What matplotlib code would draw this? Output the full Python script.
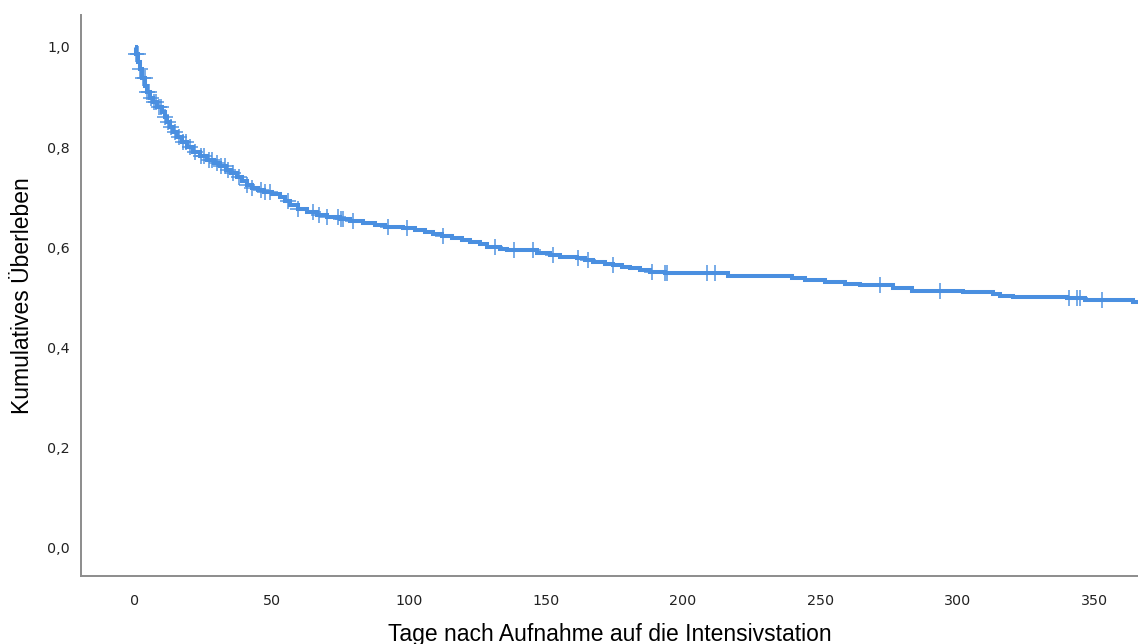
import numpy as np
import matplotlib
matplotlib.use("Agg")
import matplotlib.pyplot as plt
from matplotlib.ticker import FuncFormatter

# Kaplan-Meier estimate: event times (days) and survival after each step
event_days = [0, 0.4, 1.1, 1.8, 2.6, 3.6, 4.4, 5.5, 6.6, 8.0, 9.9, 10.9, 11.7,
              12.8, 13.9, 15.3, 17.2, 19.0, 21.2, 23.7, 26.3, 28.8, 31.0, 33.2,
              35.0, 37.2, 39.1, 40.9, 42.7, 44.9, 47.1, 50.0, 52.9, 54.7, 56.6,
              59.5, 62.8, 66.4, 70.1, 74.8, 78.5, 83.2, 87.6, 91.2, 97.8, 102.2,
              105.8, 108.8, 112.0, 115.7, 119.3, 122.3, 125.9, 128.5, 133.2,
              135.8, 146.7, 151.5, 155.1, 161.3, 164.2, 167.2, 171.5, 174.5,
              177.7, 180.7, 184.3, 188.0, 193.4, 216.4, 239.8, 244.5, 251.8,
              259.1, 264.6, 276.6, 283.6, 302.2, 313.1, 315.7, 320.4, 340.1,
              346.7, 364.0]
survival = [1.0, 0.985, 0.97, 0.955, 0.938, 0.922, 0.91, 0.898, 0.89, 0.88,
            0.87, 0.86, 0.85, 0.84, 0.83, 0.82, 0.81, 0.80, 0.79, 0.782, 0.775,
            0.768, 0.762, 0.755, 0.749, 0.741, 0.733, 0.725, 0.719, 0.714,
            0.711, 0.706, 0.700, 0.692, 0.684, 0.677, 0.671, 0.665, 0.661,
            0.657, 0.653, 0.649, 0.645, 0.641, 0.639, 0.635, 0.631, 0.627,
            0.623, 0.619, 0.615, 0.611, 0.606, 0.601, 0.597, 0.595, 0.589,
            0.585, 0.581, 0.579, 0.575, 0.571, 0.567, 0.565, 0.561, 0.559,
            0.555, 0.551, 0.549, 0.543, 0.539, 0.535, 0.531, 0.527, 0.525,
            0.519, 0.513, 0.511, 0.507, 0.503, 0.501, 0.499, 0.495, 0.491]
follow_up_end = 366

# Censored observations (days)
censored_days = [0.5, 1.0, 2.0, 2.8, 3.5, 4.5, 5.2, 6.0, 7.0, 7.8, 8.8, 9.5,
                 11.0, 12.0, 13.2, 14.5, 16.0, 17.5, 18.5, 20.0, 22.0, 24.0,
                 25.0, 27.0, 28.0, 30.0, 31.5, 33.0, 34.0, 35.8, 38.0, 40.9,
                 42.7, 46.0, 47.4, 49.3, 55.8, 59.5, 65.0, 67.2, 70.1, 74.1,
                 75.2, 75.9, 79.6, 92.3, 99.3, 112.4, 131.4, 138.3, 145.3,
                 152.6, 161.7, 165.3, 174.5, 188.7, 193.4, 194.2, 208.8, 211.7,
                 271.9, 293.8, 340.9, 343.8, 344.9, 352.9]

x_ticks = [0, 50, 100, 150, 200, 250, 300, 350]
y_ticks = [0.0, 0.2, 0.4, 0.6, 0.8, 1.0]

line_color = "#4a8fe0"

fig = plt.figure(figsize=(11.38, 6.44), dpi=100)
ax = fig.add_axes([0.0712, 0.1056, 0.9288, 0.8714])

t = np.array(event_days + [follow_up_end])
s = np.array(survival + [survival[-1]])
ax.step(t, s, where="post", color=line_color, lw=2.9, solid_capstyle="butt",
        solid_joinstyle="miter", zorder=3)

# censor marks sit on the curve value at their time
cd = np.array(censored_days)
idx = np.searchsorted(np.array(event_days), cd, side="right") - 1
cs = np.array(survival)[idx]
ax.plot(cd, cs, linestyle="none", marker="+", markersize=12,
        markeredgewidth=1.4, color=line_color, alpha=0.75, zorder=4)

ax.set_xlim(-19.7, 366)
ax.set_ylim(-0.056, 1.064)
ax.set_xticks(x_ticks)
ax.set_yticks(y_ticks)
ax.yaxis.set_major_formatter(FuncFormatter(lambda v, p: f"{v:.1f}".replace(".", ",")))

for side in ("top", "right"):
    ax.spines[side].set_visible(False)
for side in ("left", "bottom"):
    ax.spines[side].set_color("#8c8c8c")
    ax.spines[side].set_linewidth(1.4)

ax.tick_params(axis="both", length=0, labelsize=10.3, colors="#222222")
ax.tick_params(axis="x", pad=13)
ax.tick_params(axis="y", pad=8)

label_font = dict(family="Liberation Sans", size=16.5, color="black")
ax.set_xlabel("Tage nach Aufnahme auf die Intensivstation", **label_font)
ax.set_ylabel("Kumulatives Überleben", **label_font)
ax.xaxis.set_label_coords(0.5, -0.1034)
ax.yaxis.set_label_coords(-0.0558, 0.5)
ax.xaxis.label.set_verticalalignment("center")
ax.yaxis.label.set_verticalalignment("center")

fig.savefig("out.png", dpi=100)
